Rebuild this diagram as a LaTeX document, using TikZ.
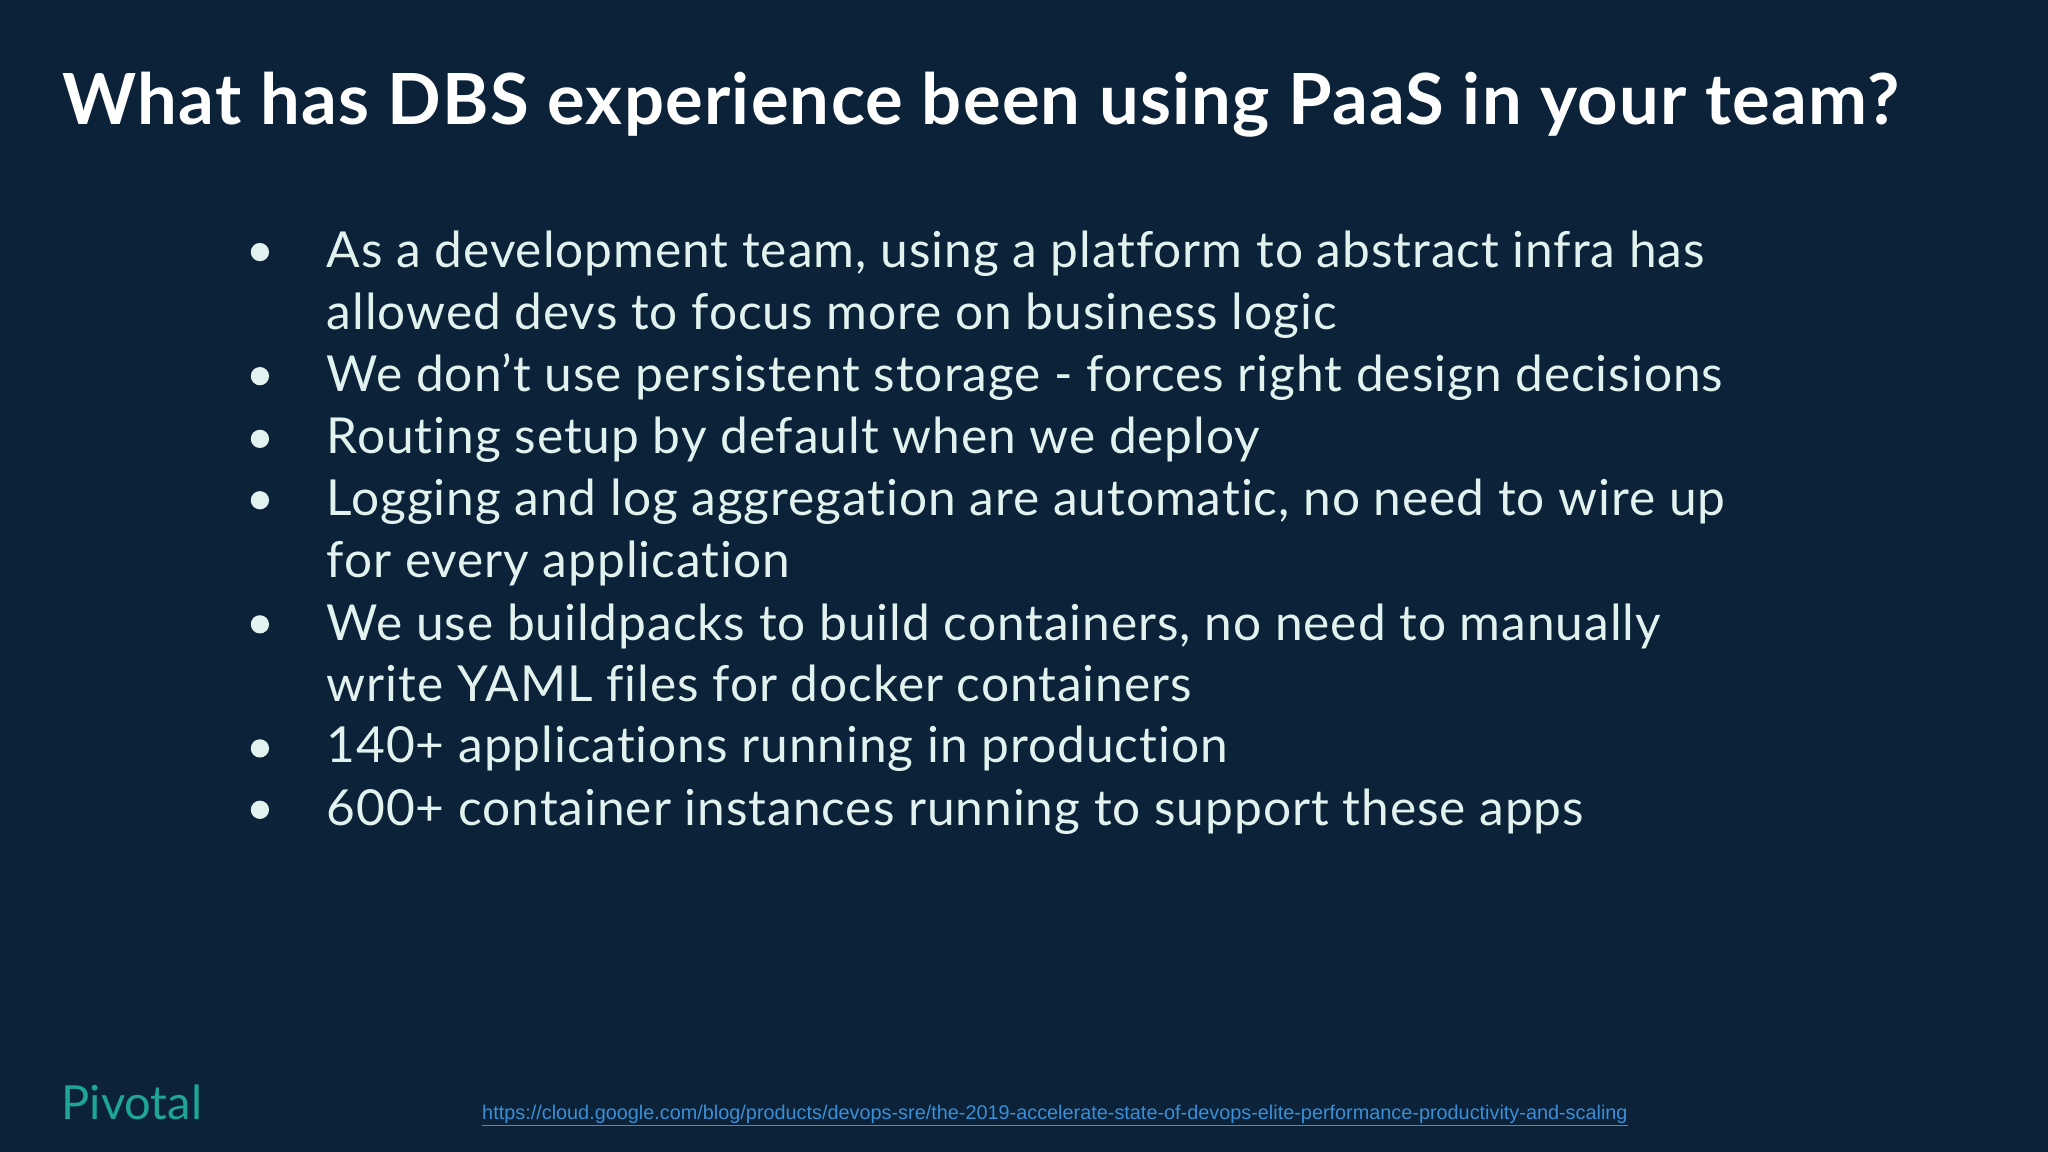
\documentclass[tikz,border=0pt]{standalone}
\usepackage{fontspec}
\setmainfont{Lato}[Ligatures=NoCommon]
\newfontfamily\bodyfont{Lato}[Ligatures=NoCommon,LetterSpace=1.9]
\newfontfamily\titlefont{Lato}[Ligatures=NoCommon,LetterSpace=1.8]
\newfontfamily\linkfont{Liberation Sans}
\definecolor{bg}{HTML}{0B2239}
\definecolor{txt}{HTML}{E2F2EF}
\definecolor{teal}{HTML}{1EA596}
\definecolor{lnk}{HTML}{3A8FD6}
\tikzset{
  item/.style={anchor=base west,inner sep=0pt,text=txt,font=\bodyfont\fontsize{38}{38}\selectfont},
  dot/.style={circle,fill=txt,minimum size=14pt,inner sep=0pt}
}
\begin{document}
\begin{tikzpicture}[x=1pt,y=-1pt]
\fill[bg] (0,0) rectangle (1568,882);
\useasboundingbox (0,0) rectangle (1568,882);
\node[anchor=base west,inner sep=0pt,text=white,font=\titlefont\fontsize{54}{54}\bfseries\selectfont] (title) at (48,95) {What has DBS experience been using PaaS in your team?};
\foreach \i/\y/\t in {1/205/{As a development team, using a platform to abstract infra has},
  2/252/{allowed devs to focus more on business logic},
  3/300/{We don’t use persistent storage - forces right design decisions},
  4/347/{Routing setup by default when we deploy},
  5/395/{Logging and log aggregation are automatic, no need to wire up},
  6/442/{for every application},
  7/490/{We use buildpacks to build containers, no need to manually},
  8/537/{write YAML files for docker containers},
  9/584/{140+ applications running in production},
  10/632/{600+ container instances running to support these apps}}
  {\node[item] (l\i) at (250,\y) {\t};}
\foreach \y/\n in {193/1,288/2,336/3,383/4,478/5,573/6,620/7}
  {\node[dot] (b\n) at (199,\y) {};}
\node[anchor=base west,inner sep=0pt,text=teal,font=\fontsize{36}{36}\selectfont] (logo) at (47,857) {Pivotal};
\node[anchor=base west,inner sep=0pt,text=lnk,font=\linkfont\fontsize{15.2}{15.2}\selectfont] (link) at (369,857) {\underline{https://cloud.google.com/blog/products/devops-sre/the-2019-accelerate-state-of-devops-elite-performance-productivity-and-scaling}};
\end{tikzpicture}
\end{document}
